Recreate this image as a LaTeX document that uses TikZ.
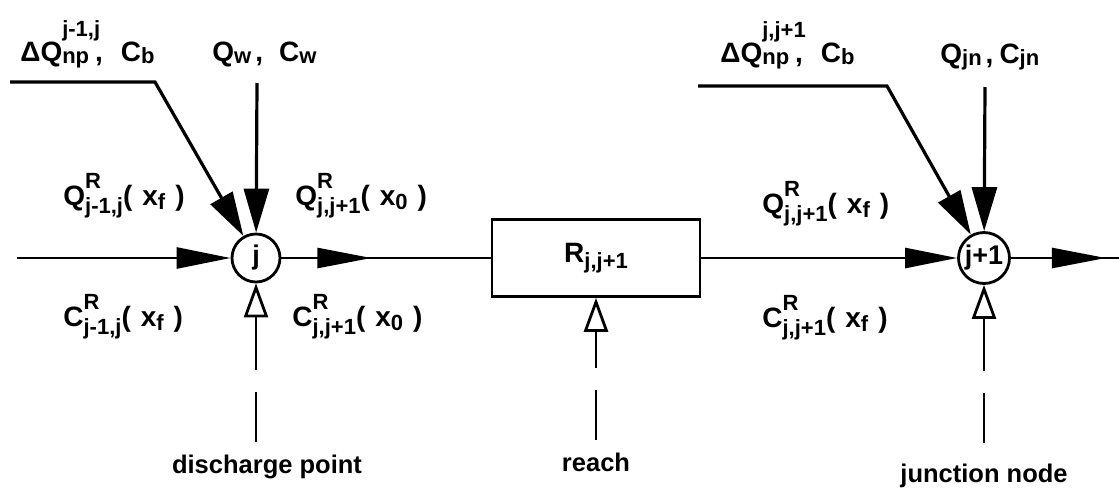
\documentclass[tikz,border=0pt]{standalone}
\usepackage{fontspec}
\setmainfont{Liberation Sans}
\usetikzlibrary{arrows.meta,decorations.markings,positioning}

\newsavebox\supbox
\newsavebox\subbox
\newlength\sslen
% stacked super- and subscript: raise, drop, sup, sub
\newcommand{\supsub}[4]{{\fontsize{11}{12}\selectfont
  \sbox\supbox{#3}\sbox\subbox{#4}%
  \sslen=\wd\supbox
  \ifdim\wd\subbox>\sslen \sslen=\wd\subbox\fi
  \makebox[\sslen][l]{\rlap{\raisebox{#1}{\usebox\supbox}}\raisebox{-#2}{\usebox\subbox}}}}
\newcommand{\lowsub}[1]{\supsub{0pt}{1pt}{}{#1}}
\newcommand{\rsup}[1]{\supsub{8.5pt}{4pt}{R}{#1}}
\newcommand{\atx}[1]{(\hspace{5pt}x\supsub{0pt}{2pt}{}{#1}\hspace{5pt})}

\begin{document}
\begin{tikzpicture}[x=0.5pt,y=-0.5pt,
  every node/.style={font=\bfseries\fontsize{12.75}{15}\selectfont},
  junc/.style={draw,circle,line width=1.4pt,inner sep=0pt,minimum size=24pt,
    font=\bfseries\fontsize{13.5}{15}\selectfont},
  reachbox/.style={draw,line width=1.3pt,minimum width=104pt,minimum height=38.5pt,inner sep=0pt,
    font=\bfseries\fontsize{14}{16}\selectfont},
  flow/.style={line width=1.3pt},
  feed/.style={line width=1.6pt,-{Triangle[length=22pt,width=12.5pt]}},
  pointer/.style={line width=0.7pt,dash pattern=on 25pt off 11pt on 300pt,
    -{Triangle[open,length=17pt,width=12pt,line width=1.4pt]}},
  midarrow/.style={postaction={decorate},decoration={markings,
    mark=at position #1 with {\arrow{Triangle[length=27pt,width=10pt]}}}},
  lab/.style={anchor=base west,inner sep=0pt,font=\bfseries\fontsize{14}{16}\selectfont}]
\useasboundingbox (0,0) rectangle (1119,489);

% nodes on the main line
\node[junc] (j) at (256,258) {j};
\node[reachbox] (reach) at (596,258) {R\supsub{0pt}{3pt}{}{j,j+1}};
\node[junc,minimum size=25.5pt] (jp) at (984,258) {j+1};
\coordinate (in) at (17,258);
\coordinate (out) at (1119,258);

% main flow
\draw[flow,-{Triangle[length=27pt,width=10.5pt]}] (in) -- (j);
\draw[flow,midarrow=45pt] (j) -- (reach);
\draw[flow,-{Triangle[length=26pt,width=10pt]}] (reach) -- (jp);
\draw[flow,midarrow=47.5pt] (jp) -- (out);

% lateral inflows
\coordinate (bjs) at (10,82);
\coordinate (bjk) at (155,82);
\coordinate (wtop) at (257,83);
\coordinate (bps) at (698,86);
\coordinate (bpk) at (887,86);
\coordinate (jntop) at (985,87);
\draw[feed] (bjs) -- (bjk) -- (j);
\draw[feed] (wtop) -- (j);
\draw[feed] (bps) -- (bpk) -- (jp);
\draw[feed] (jntop) -- (jp);

% flow labels
\node[lab] (bqj) at (20,61) {ΔQ\supsub{12.5pt}{1pt}{j-1,j}{np}\hspace{3pt},\hspace{9pt}C\lowsub{b}};
\node[lab] (wq) at (212,61) {Q\lowsub{w}\hspace{2pt},\hspace{8pt}C\lowsub{w}};
\node[lab] (qin) at (63,205) {Q\rsup{j-1,j}\atx{f}};
\node[lab] (qout) at (295,205) {Q\rsup{j,j+1}\atx{0}};
\node[lab] (cin) at (63,326) {C\rsup{j-1,j}\atx{f}};
\node[lab] (cout) at (292,326) {C\rsup{j,j+1}\atx{0}};
\node[lab] (qreach) at (762,213) {Q\rsup{j,j+1}\atx{f}};
\node[lab] (creach) at (762,327) {C\rsup{j,j+1}\atx{f}};
\node[lab] (bqp) at (720,62) {ΔQ\supsub{12.5pt}{1pt}{j,j+1}{np}\hspace{3pt},\hspace{9pt}C\lowsub{b}};
\node[lab] (jnq) at (940,63) {Q\lowsub{jn}\hspace{2pt},\hspace{3pt}C\lowsub{jn}};

% pointers from below
\node[anchor=base] (dlab) at (267,473) {discharge point};
\node[anchor=base] (rlab) at (596,471) {reach};
\node[anchor=base] (jlab) at (984,482) {junction node};
\coordinate (dpt) at (256,442);
\coordinate (rpt) at (596,440);
\coordinate (jpt) at (984,443);
\draw[pointer] (dpt) -- (j);
\draw[pointer] (rpt) -- (reach);
\draw[pointer] (jpt) -- (jp);
\end{tikzpicture}
\end{document}
